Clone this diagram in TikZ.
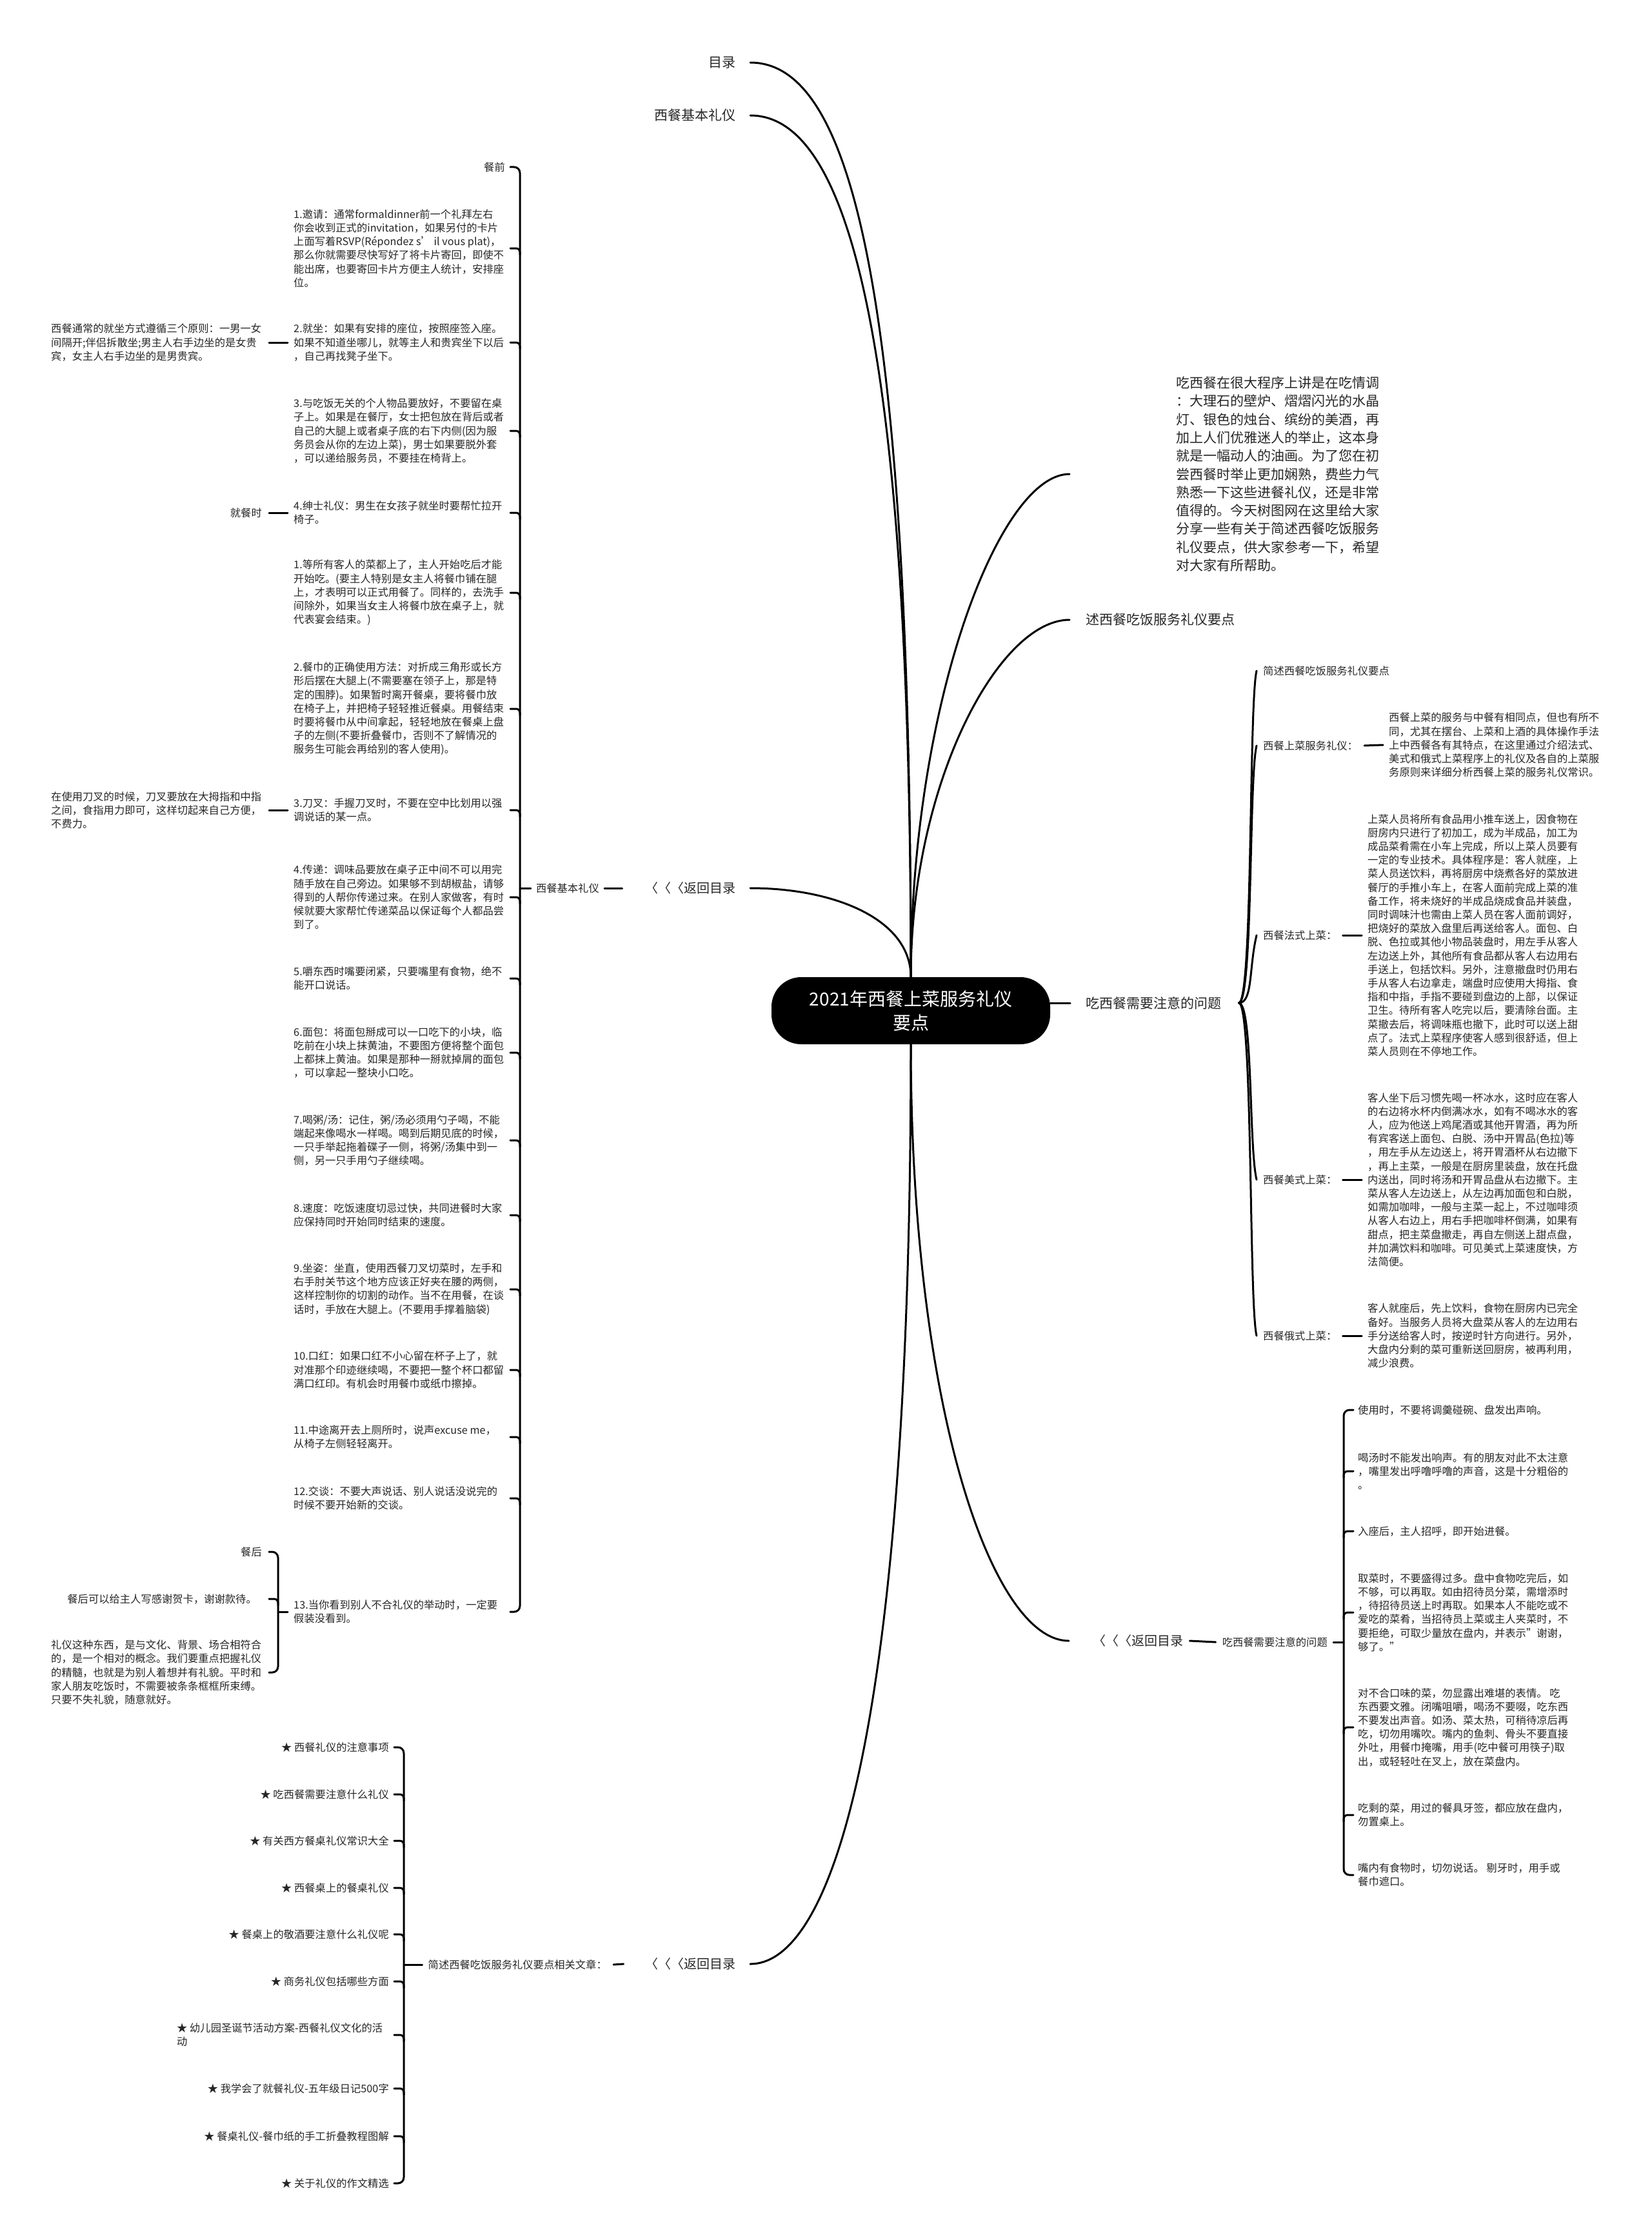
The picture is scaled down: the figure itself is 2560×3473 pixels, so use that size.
\documentclass[tikz,border=0pt]{standalone}
\usepackage{fontspec}
\setmainfont{Noto Sans CJK SC}
\begin{document}
\begin{tikzpicture}[x=1pt,y=-1pt,
  conn/.style={line width=3pt,black,line cap=round,line join=round},
  sm/.style={inner sep=0pt,text=black!85,align=left,font=\fontsize{16.3}{21.2}\selectfont},
  big/.style={inner sep=0pt,text=black!85,align=left,font=\fontsize{21}{28.3}\selectfont},
  back/.style={inner sep=0pt,text=black!85,font=\fontsize{20}{24}\selectfont},
  rootnode/.style={fill=black,text=white,rounded corners=46pt,minimum width=432pt,minimum height=104pt,align=center,inner sep=0pt,font=\fontsize{28}{37}\selectfont},
]
\useasboundingbox (0,0) rectangle (2560,3473);

% ---------------- root and main branches ----------------
\node[rootnode] (root) at (1412,1567) {2021年西餐上菜服务礼仪\\要点};

\node[big,anchor=east] (mulu) at (1141,97) {目录};
\node[big,anchor=east] (jbly) at (1141,179) {西餐基本礼仪};
\node[back,anchor=east] (fh1) at (1141,1377) {〈〈〈返回目录};
\node[back,anchor=east] (fh3) at (1141,3045) {〈〈〈返回目录};
\node[back,anchor=west] (fh2) at (1694,2544) {〈〈〈返回目录};

\node[big,anchor=west] (intro) at (1823,735) {吃西餐在很大程序上讲是在吃情调\\：大理石的壁炉、熠熠闪光的水晶\\灯、银色的烛台、缤纷的美酒，再\\加上人们优雅迷人的举止，这本身\\就是一幅动人的油画。为了您在初\\尝西餐时举止更加娴熟，费些力气\\熟悉一下这些进餐礼仪，还是非常\\值得的。今天树图网在这里给大家\\分享一些有关于简述西餐吃饭服务\\礼仪要点，供大家参考一下，希望\\对大家有所帮助。};
\node[big,anchor=west] (sx) at (1683,961) {述西餐吃饭服务礼仪要点};
\node[big,anchor=west] (cx) at (1683,1555) {吃西餐需要注意的问题};

\draw[conn] ([xshift=22pt]mulu.east) .. controls +(150,0) and +(0,-1100) .. (root.north);
\draw[conn] ([xshift=22pt]jbly.east) .. controls +(150,0) and +(0,-1000) .. (root.north);
\draw[conn] ([xshift=22pt]fh1.east) .. controls +(130,0) and +(0,-90) .. (root.north);
\draw[conn] (root.north) .. controls +(0,-420) and +(-110,0) .. ([xshift=-165pt]intro.west);
\draw[conn] (root.north) .. controls +(0,-300) and +(-110,0) .. ([xshift=-25pt]sx.west);
\draw[conn] (root.east |- cx.west) -- ([xshift=-24pt]cx.west);
\draw[conn] (root.south) .. controls +(0,560) and +(-120,0) .. ([xshift=-37pt]fh2.west);
\draw[conn] (root.south) .. controls +(0,1050) and +(130,0) .. ([xshift=22pt]fh3.east);

% ---------------- left subtree: 西餐基本礼仪 ----------------
\coordinate (bxa) at (791,0);
\coordinate (bxb) at (806,0);
\coordinate (bwa) at (417,0);
\coordinate (bwb) at (431,0);
\coordinate (bza) at (611,0);
\coordinate (bzb) at (626,0);
\coordinate (bya) at (2098,0);
\coordinate (byb) at (2083,0);

\node[sm,anchor=east] (jb2) at (929,1377) {西餐基本礼仪};
\draw[conn] ([xshift=-36pt]fh1.west) -- ([xshift=8pt]jb2.east);
\draw[conn] ([xshift=-8pt]jb2.west) -- (jb2.west -| bxb);

\node[sm,anchor=east] (c0) at (783,259) {餐前};
\node[sm,anchor=west] (c1) at (455,385) {1.邀请：通常formaldinner前一个礼拜左右\\你会收到正式的invitation，如果另付的卡片\\上面写着RSVP(Répondez s’ il vous plat)，\\那么你就需要尽快写好了将卡片寄回，即使不\\能出席，也要寄回卡片方便主人统计，安排座\\位。};
\node[sm,anchor=west] (c2) at (455,531) {2.就坐：如果有安排的座位，按照座签入座。\\如果不知道坐哪儿，就等主人和贵宾坐下以后\\，自己再找凳子坐下。};
\node[sm,anchor=west] (c3) at (455,668) {3.与吃饭无关的个人物品要放好，不要留在桌\\子上。如果是在餐厅，女士把包放在背后或者\\自己的大腿上或者桌子底的右下内侧(因为服\\务员会从你的左边上菜)，男士如果要脱外套\\，可以递给服务员，不要挂在椅背上。};
\node[sm,anchor=west] (c4) at (455,795) {4.绅士礼仪：男生在女孩子就坐时要帮忙拉开\\椅子。};
\node[sm,anchor=west] (c5) at (455,919) {1.等所有客人的菜都上了，主人开始吃后才能\\开始吃。(要主人特别是女主人将餐巾铺在腿\\上，才表明可以正式用餐了。同样的，去洗手\\间除外，如果当女主人将餐巾放在桌子上，就\\代表宴会结束。)};
\node[sm,anchor=west] (c6) at (455,1099) {2.餐巾的正确使用方法：对折成三角形或长方\\形后摆在大腿上(不需要塞在领子上，那是特\\定的围脖)。如果暂时离开餐桌，要将餐巾放\\在椅子上，并把椅子轻轻推近餐桌。用餐结束\\时要将餐巾从中间拿起，轻轻地放在餐桌上盘\\子的左侧(不要折叠餐巾，否则不了解情况的\\服务生可能会再给别的客人使用)。};
\node[sm,anchor=west] (c7) at (455,1256) {3.刀叉：手握刀叉时，不要在空中比划用以强\\调说话的某一点。};
\node[sm,anchor=west] (c8) at (455,1391) {4.传递：调味品要放在桌子正中间不可以用完\\随手放在自己旁边。如果够不到胡椒盐，请够\\得到的人帮你传递过来。在别人家做客，有时\\候就要大家帮忙传递菜品以保证每个人都品尝\\到了。};
\node[sm,anchor=west] (c9) at (455,1517) {5.嚼东西时嘴要闭紧，只要嘴里有食物，绝不\\能开口说话。};
\node[sm,anchor=west] (c10) at (455,1632) {6.面包：将面包掰成可以一口吃下的小块，临\\吃前在小块上抹黄油，不要图方便将整个面包\\上都抹上黄油。如果是那种一掰就掉屑的面包\\，可以拿起一整块小口吃。};
\node[sm,anchor=west] (c11) at (455,1768) {7.喝粥/汤：记住，粥/汤必须用勺子喝，不能\\端起来像喝水一样喝。喝到后期见底的时候，\\一只手举起拖着碟子一侧，将粥/汤集中到一\\侧，另一只手用勺子继续喝。};
\node[sm,anchor=west] (c12) at (455,1884) {8.速度：吃饭速度切忌过快，共同进餐时大家\\应保持同时开始同时结束的速度。};
\node[sm,anchor=west] (c13) at (455,1999) {9.坐姿：坐直，使用西餐刀叉切菜时，左手和\\右手肘关节这个地方应该正好夹在腰的两侧，\\这样控制你的切割的动作。当不在用餐，在谈\\话时，手放在大腿上。(不要用手撑着脑袋)};
\node[sm,anchor=west] (c14) at (455,2124) {10.口红：如果口红不小心留在杯子上了，就\\对准那个印迹继续喝，不要把一整个杯口都留\\满口红印。有机会时用餐巾或纸巾擦掉。};
\node[sm,anchor=west] (c15) at (455,2228) {11.中途离开去上厕所时，说声excuse me，\\从椅子左侧轻轻离开。};
\node[sm,anchor=west] (c16) at (455,2323) {12.交谈：不要大声说话、别人说话没说完的\\时候不要开始新的交谈。};
\node[sm,anchor=west] (c17) at (455,2499) {13.当你看到别人不合礼仪的举动时，一定要\\假装没看到。};

\draw[conn,rounded corners=9pt] (c0 -| bxa) -- (c0 -| bxb) -- (c17 -| bxb) -- (c17 -| bxa);
\foreach \n in {c1,c2,c3,c4,c5,c6,c7,c8,c9,c10,c11,c12,c13,c14,c15,c16}
  \draw[conn,rounded corners=6pt] (\n -| bxa) -- (\n -| bxb) -- ++(0,10);

\node[sm,anchor=west] (s1) at (79,531) {西餐通常的就坐方式遵循三个原则：一男一女\\间隔开;伴侣拆散坐;男主人右手边坐的是女贵\\宾，女主人右手边坐的是男贵宾。};
\node[sm,anchor=east] (s2) at (406,795) {就餐时};
\node[sm,anchor=west] (s3) at (79,1256) {在使用刀叉的时候，刀叉要放在大拇指和中指\\之间，食指用力即可，这样切起来自己方便，\\不费力。};
\draw[conn] ([xshift=-9pt]c2.west) -- (c2.west -| bwa);
\draw[conn] ([xshift=-9pt]c4.west) -- ([xshift=11pt]s2.east);
\draw[conn] ([xshift=-9pt]c7.west) -- (c7.west -| bwa);

\node[sm,anchor=east] (d1) at (406,2406) {餐后};
\node[sm,anchor=east] (d2) at (398,2479) {餐后可以给主人写感谢贺卡，谢谢款待。};
\node[sm,anchor=west] (d3) at (79,2593) {礼仪这种东西，是与文化、背景、场合相符合\\的，是一个相对的概念。我们要重点把握礼仪\\的精髓，也就是为别人着想并有礼貌。平时和\\家人朋友吃饭时，不需要被条条框框所束缚。\\只要不失礼貌，随意就好。};
\draw[conn] ([xshift=-9pt]c17.west) -- (c17.west -| bwb);
\draw[conn,rounded corners=9pt] (d1 -| bwa) -- (d1 -| bwb) -- (d3 -| bwb) -- (d3 -| bwa);
\draw[conn,rounded corners=6pt] (d2 -| bwa) -- (d2 -| bwb) -- ++(0,10);

% ---------------- lower left: related articles ----------------
\node[sm,anchor=east] (xg) at (941,3046) {简述西餐吃饭服务礼仪要点相关文章：};
\draw[conn] ([xshift=-34pt]fh3.west) -- ([xshift=10pt]xg.east);
\draw[conn] ([xshift=-9pt]xg.west) -- (xg.west -| bzb);

\node[sm,anchor=east] (z1) at (603,2709) {★ 西餐礼仪的注意事项};
\node[sm,anchor=east] (z2) at (603,2782) {★ 吃西餐需要注意什么礼仪};
\node[sm,anchor=east] (z3) at (603,2854) {★ 有关西方餐桌礼仪常识大全};
\node[sm,anchor=east] (z4) at (603,2927) {★ 西餐桌上的餐桌礼仪};
\node[sm,anchor=east] (z5) at (603,2999) {★ 餐桌上的敬酒要注意什么礼仪呢};
\node[sm,anchor=east] (z6) at (603,3072) {★ 商务礼仪包括哪些方面};
\node[sm,anchor=west] (z7) at (274,3155) {★ 幼儿园圣诞节活动方案-西餐礼仪文化的活\\动};
\node[sm,anchor=east] (z8) at (603,3238) {★ 我学会了就餐礼仪-五年级日记500字};
\node[sm,anchor=east] (z9) at (603,3312) {★ 餐桌礼仪-餐巾纸的手工折叠教程图解};
\node[sm,anchor=east] (z10) at (603,3385) {★ 关于礼仪的作文精选};
\draw[conn,rounded corners=9pt] (z1 -| bza) -- (z1 -| bzb) -- (z10 -| bzb) -- (z10 -| bza);
\foreach \n in {z2,z3,z4,z5,z6,z7,z8,z9}
  \draw[conn,rounded corners=6pt] (\n -| bza) -- (\n -| bzb) -- ++(0,10);

% ---------------- right subtree: 吃西餐需要注意的问题 ----------------
\coordinate (cxo) at ([xshift=27pt]cx.east);
\node[sm,anchor=west] (r1) at (1958,1040) {简述西餐吃饭服务礼仪要点};
\node[sm,anchor=west] (r2) at (1958,1156) {西餐上菜服务礼仪：};
\node[sm,anchor=west] (r3) at (1958,1450) {西餐法式上菜：};
\node[sm,anchor=west] (r4) at (1958,1829) {西餐美式上菜：};
\node[sm,anchor=west] (r5) at (1958,2071) {西餐俄式上菜：};
\foreach \n in {r1,r2,r3}
  \draw[conn] (cxo) .. controls +(22,0) and +(-12,50) .. ([xshift=-10pt]\n.west);
\foreach \n in {r4,r5}
  \draw[conn] (cxo) .. controls +(22,0) and +(-12,-50) .. ([xshift=-10pt]\n.west);

\node[sm,anchor=west] (t2) at (2153,1155) {西餐上菜的服务与中餐有相同点，但也有所不\\同，尤其在摆台、上菜和上酒的具体操作手法\\上中西餐各有其特点，在这里通过介绍法式、\\美式和俄式上菜程序上的礼仪及各自的上菜服\\务原则来详细分析西餐上菜的服务礼仪常识。};
\node[sm,anchor=west] (t3) at (2120,1450) {上菜人员将所有食品用小推车送上，因食物在\\厨房内只进行了初加工，成为半成品，加工为\\成品菜肴需在小车上完成，所以上菜人员要有\\一定的专业技术。具体程序是：客人就座，上\\菜人员送饮料，再将厨房中烧煮各好的菜放进\\餐厅的手推小车上，在客人面前完成上菜的准\\备工作，将未烧好的半成品烧成食品并装盘，\\同时调味汁也需由上菜人员在客人面前调好，\\把烧好的菜放入盘里后再送给客人。面包、白\\脱、色拉或其他小物品装盘时，用左手从客人\\左边送上外，其他所有食品都从客人右边用右\\手送上，包括饮料。另外，注意撤盘时仍用右\\手从客人右边拿走，端盘时应使用大拇指、食\\指和中指，手指不要碰到盘边的上部，以保证\\卫生。待所有客人吃完以后，要清除台面。主\\菜撤去后，将调味瓶也撤下，此时可以送上甜\\点了。法式上菜程序使客人感到很舒适，但上\\菜人员则在不停地工作。};
\node[sm,anchor=west] (t4) at (2120,1829) {客人坐下后习惯先喝一杯冰水，这时应在客人\\的右边将水杯内倒满冰水，如有不喝冰水的客\\人，应为他送上鸡尾酒或其他开胃酒，再为所\\有宾客送上面包、白脱、汤中开胃品(色拉)等\\，用左手从左边送上，将开胃酒杯从右边撤下\\，再上主菜，一般是在厨房里装盘，放在托盘\\内送出，同时将汤和开胃品盘从右边撤下。主\\菜从客人左边送上，从左边再加面包和白脱，\\如需加咖啡，一般与主菜一起上，不过咖啡须\\从客人右边上，用右手把咖啡杯倒满，如果有\\甜点，把主菜盘撤走，再自左侧送上甜点盘，\\并加满饮料和咖啡。可见美式上菜速度快，方\\法简便。};
\node[sm,anchor=west] (t5) at (2120,2071) {客人就座后，先上饮料，食物在厨房内已完全\\备好。当服务人员将大盘菜从客人的左边用右\\手分送给客人时，按逆时针方向进行。另外，\\大盘内分剩的菜可重新送回厨房，被再利用，\\减少浪费。};
\draw[conn] ([xshift=10pt]r2.east) -- ([xshift=-9pt]t2.west);
\draw[conn] ([xshift=9pt]r3.east) -- ([xshift=-9pt]t3.west);
\draw[conn] ([xshift=9pt]r4.east) -- ([xshift=-9pt]t4.west);
\draw[conn] ([xshift=9pt]r5.east) -- ([xshift=-9pt]t5.west);

% ---------------- lower right subtree ----------------
\node[sm,anchor=east] (cx2) at (2058,2546) {吃西餐需要注意的问题};
\draw[conn] ([xshift=10pt]fh2.east) -- ([xshift=-10pt]cx2.west);
\draw[conn] ([xshift=9pt]cx2.east) -- (cx2.east -| byb);

\node[sm,anchor=west] (w1) at (2105,2186) {使用时，不要将调羹碰碗、盘发出声响。};
\node[sm,anchor=west] (w2) at (2105,2281) {喝汤时不能发出响声。有的朋友对此不太注意\\，嘴里发出呼噜呼噜的声音，这是十分粗俗的\\。};
\node[sm,anchor=west] (w3) at (2105,2374) {入座后，主人招呼，即开始进餐。};
\node[sm,anchor=west] (w4) at (2105,2500) {取菜时，不要盛得过多。盘中食物吃完后，如\\不够，可以再取。如由招待员分菜，需增添时\\，待招待员送上时再取。如果本人不能吃或不\\爱吃的菜肴，当招待员上菜或主人夹菜时，不\\要拒绝，可取少量放在盘内，并表示"谢谢，\\够了。"};
\node[sm,anchor=west] (w5) at (2105,2678) {对不合口味的菜，勿显露出难堪的表情。 吃\\东西要文雅。闭嘴咀嚼，喝汤不要啜，吃东西\\不要发出声音。如汤、菜太热，可稍待凉后再\\吃，切勿用嘴吹。嘴内的鱼刺、骨头不要直接\\外吐，用餐巾掩嘴，用手(吃中餐可用筷子)取\\出，或轻轻吐在叉上，放在菜盘内。};
\node[sm,anchor=west] (w6) at (2105,2814) {吃剩的菜，用过的餐具牙签，都应放在盘内，\\勿置桌上。};
\node[sm,anchor=west] (w7) at (2105,2907) {嘴内有食物时，切勿说话。 剔牙时，用手或\\餐巾遮口。};
\draw[conn,rounded corners=9pt] (w1 -| bya) -- (w1 -| byb) -- (w7 -| byb) -- (w7 -| bya);
\foreach \n in {w2,w3,w4,w5,w6}
  \draw[conn,rounded corners=6pt] (\n -| bya) -- (\n -| byb) -- ++(0,10);

\end{tikzpicture}
\end{document}
